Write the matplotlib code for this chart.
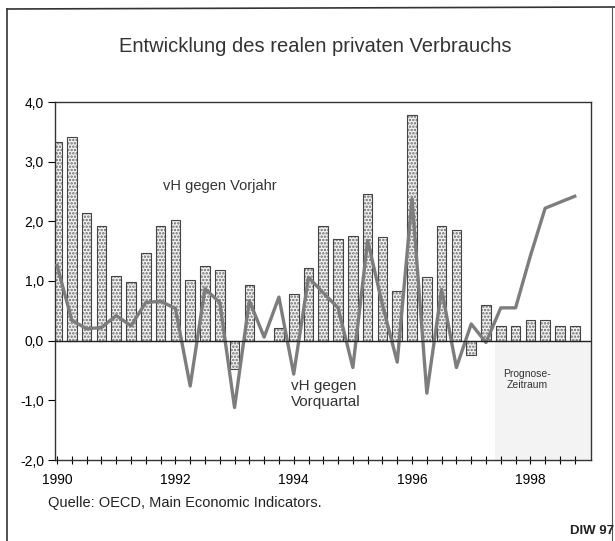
import matplotlib.pyplot as plt
from matplotlib.lines import Line2D
import numpy as np

plt.rcParams['font.family'] = ['Liberation Sans', 'DejaVu Sans']
plt.rcParams['hatch.linewidth'] = 1.2

# Quartale 1990 Q1 bis 1998 Q4
quarters = [f"{y}Q{q}" for y in range(1990, 1999) for q in range(1, 5)]

# vH gegen Vorjahr (Balken)
vorjahr = [3.33, 3.42, 2.14, 1.93, 1.08, 0.99, 1.47, 1.92,
           2.03, 1.01, 1.25, 1.19, -0.47, 0.94, 0.00, 0.22,
           0.79, 1.21, 1.92, 1.70, 1.76, 2.45, 1.73, 0.84,
           3.78, 1.06, 1.93, 1.85, -0.24, 0.60, 0.24, 0.24,
           0.34, 0.35, 0.24, 0.25]

# vH gegen Vorquartal (Linie)
vorquartal = [1.26, 0.34, 0.20, 0.22, 0.42, 0.25, 0.64, 0.66,
              0.54, -0.76, 0.87, 0.64, -1.12, 0.67, 0.06, 0.73,
              -0.56, 1.06, 0.80, 0.55, -0.45, 1.68, 0.60, -0.36,
              2.38, -0.88, 0.86, -0.45, 0.28, -0.03, 0.55, 0.55,
              1.42, 2.22, 2.32, 2.42]

year_labels = ["1990", "1992", "1994", "1996", "1998"]
y_ticks = [4, 3, 2, 1, 0, -1, -2]
y_labels = ["4,0", "3,0", "2,0", "1,0", "0,0", "-1,0", "-2,0"]
forecast_start = "1997Q3"

x = np.arange(len(quarters))

fig = plt.figure(figsize=(6.15, 5.41), dpi=100)
ax = fig.add_axes([55 / 615, 1 - 460 / 541, 536 / 615, 358 / 541])

# Prognose-Zeitraum
fs = quarters.index(forecast_start) - 0.4
ax.fill_between([fs, len(quarters) + 1], -2, 0, color='#f3f3f3', lw=0, zorder=0)

# Balken mit Punktraster
ax.bar(x, vorjahr, width=0.65, color='#f4f4f4', edgecolor='#6a6a6a',
       hatch='.....', linewidth=0, zorder=2)
ax.bar(x, vorjahr, width=0.65, fill=False, edgecolor='#444444',
       linewidth=0.8, zorder=3)

ax.plot(x, vorquartal, color='#7d7d7d', linewidth=2.4, zorder=4)
ax.axhline(0, color='#222222', linewidth=1.0, zorder=5)

ax.set_xlim(-0.14, 36.1)
ax.set_ylim(-2, 4)
ax.set_yticks(y_ticks)
ax.set_yticklabels(y_labels, fontsize=10)
ax.set_xticks(x, minor=True)
ax.set_xticks([quarters.index(f"{y}Q1") for y in year_labels])
ax.set_xticklabels(year_labels, fontsize=10)
ax.tick_params(axis='x', which='both', direction='inout', length=6,
               width=0.8, pad=6)
ax.tick_params(axis='y', direction='out', length=5, width=0.8, pad=3)
for s in ax.spines.values():
    s.set_linewidth(1.0)
    s.set_color('#333333')

ax.text(11.0, 2.6, "vH gegen Vorjahr", fontsize=10.5, ha='center', va='center', color='#333333')
ax.text(15.8, -0.9, "vH gegen\nVorquartal", fontsize=11, ha='left', va='center',
        linespacing=1.2, color='#333333')
ax.text(31.8, -0.65, "Prognose-\nZeitraum", fontsize=7.5, ha='center', va='center',
        linespacing=1.2, color='#333333')

fig.text(315 / 615, 1 - 47 / 541, "Entwicklung des realen privaten Verbrauchs",
         fontsize=14.5, ha='center', va='center', color='#333333')
fig.text(48 / 615, 1 - 503 / 541, "Quelle: OECD, Main Economic Indicators.",
         fontsize=10.5, ha='left', va='center', color='#222222')
fig.text(570 / 615, 1 - 531 / 541, "DIW 97", fontsize=9.5, fontweight='bold',
         ha='left', va='center', color='#222222')

# Rahmen
fig.add_artist(Line2D([7 / 615, 7 / 615], [0, 1 - 9 / 541], color='#333333', lw=1.2))
fig.add_artist(Line2D([7 / 615, 1], [1 - 9 / 541, 1 - 7 / 541], color='#333333', lw=1.2))
fig.add_artist(Line2D([612 / 615, 612 / 615], [0, 1 - 7 / 541], color='#555555', lw=0.8))

fig.savefig("out.png", dpi=100, facecolor='white')
